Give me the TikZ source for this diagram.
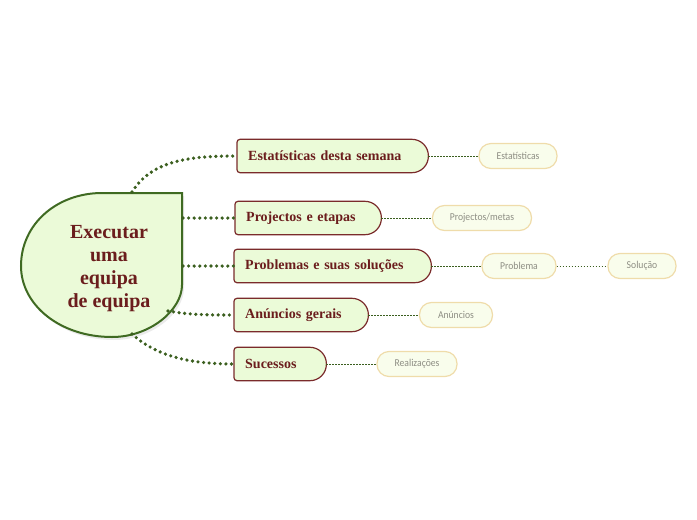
\documentclass[tikz,border=0pt]{standalone}
\usepackage{fontspec}
\setmainfont{Liberation Serif}
\newfontfamily\subfont[FakeStretch=0.92]{Carlito}
\usetikzlibrary{backgrounds}
\definecolor{cfill}{HTML}{EBFAD8}
\definecolor{cborder}{HTML}{3F6A22}
\definecolor{bfill}{HTML}{EBFBD8}
\definecolor{bborder}{HTML}{7A2B2B}
\definecolor{btext}{HTML}{6B1D1D}
\definecolor{sfill}{HTML}{F9FDEC}
\definecolor{sborder}{HTML}{EFDCAA}
\definecolor{stext}{HTML}{8E8E84}
\definecolor{linkc}{HTML}{3B5F1F}
\newcommand\branchshape[1]{%
  \begin{pgfonlayer}{background}
  \draw[bshape] (#1.north) [rounded corners=16.5pt] -- (#1.north east) -- (#1.south east) -- (#1.south)
    [rounded corners=3pt] -- (#1.south west) -- (#1.north west) -- cycle;
  \end{pgfonlayer}}
\begin{document}
\begin{tikzpicture}[x=1pt,y=-1pt,
  every node/.style={inner sep=0pt},
  central/.style={font=\bfseries\fontsize{20}{23}\selectfont, text=btext, align=center},
  cshape/.style={fill=cfill, draw=cborder, line width=2pt},
  branch/.style={font=\bfseries\fontsize{14}{16}\selectfont, text=btext, anchor=west,
    minimum height=33pt, inner xsep=11pt, align=left},
  bshape/.style={fill=bfill, draw=bborder, line width=1.2pt},
  sub/.style={font=\subfont\fontsize{10.5}{12}\selectfont, text=stext, fill=sfill, draw=sborder,
    line width=1.2pt, rounded corners=12pt, minimum height=25pt},
  thick link/.style={draw=linkc, line width=3.6pt, line cap=round, dash pattern=on 0pt off 5.6pt},
  thin link/.style={draw=linkc, line width=1pt, dash pattern=on 1.5pt off 1.5pt}
]
\useasboundingbox (0,0) rectangle (697,520);

% central node
\begin{pgfonlayer}{background}
\fill[black, opacity=0.08] (184,196) -- (184,288) .. controls (184,313) and (152,340) .. (114,340)
  .. controls (62,340) and (23,308) .. (23,268) -- cycle;
\draw[cshape] (182,193) -- (182,285) .. controls (182,310) and (150,337) .. (112,337)
  .. controls (60,337) and (21,305) .. (21,266) .. controls (21,224) and (57,193) .. (102,193) -- cycle;
\end{pgfonlayer}
\node[central] (c) at (109,268.5) {Executar\\uma\\equipa\\de equipa};
\coordinate (c1) at (132,192);
\coordinate (c2) at (183,218);
\coordinate (c3) at (183,266);
\coordinate (c4) at (168,311);
\coordinate (c5) at (132,334);

% branches
\node[branch, text width=169pt] (b1) at (237,156) {Estatísticas desta semana};
\node[branch, text width=124pt] (b2) at (235,218) {Projectos e etapas};
\node[branch, text width=175pt] (b3) at (234,266) {Problemas e suas soluções};
\node[branch, text width=112pt] (b4) at (234,315) {Anúncios gerais};
\node[branch, text width=70pt]  (b5) at (234,364) {Sucessos};
\branchshape{b1}\branchshape{b2}\branchshape{b3}\branchshape{b4}\branchshape{b5}

% sub nodes
\node[sub, minimum width=78pt] (s1) at (518,156) {Estatísticas};
\node[sub, minimum width=99pt] (s2) at (482,218) {Projectos/metas};
\node[sub, minimum width=74pt] (s3) at (519,266) {Problema};
\node[sub, minimum width=68pt] (s4) at (642,266) {Solução};
\node[sub, minimum width=73pt] (s5) at (456,315) {Anúncios};
\node[sub, minimum width=80pt] (s6) at (417,364) {Realizações};

% thick connectors
\draw[thick link] (c1) .. controls (152,160) and (190,156) .. (b1.west);
\draw[thick link] (c2) -- (b2.west);
\draw[thick link] (c3) -- (b3.west);
\draw[thick link] (c4) .. controls (190,315) and (210,315) .. (b4.west);
\draw[thick link] (c5) .. controls (152,352) and (180,364) .. (b5.west);

% thin connectors
\draw[thin link] (b1.east) -- (s1.west);
\draw[thin link] (b2.east) -- (s2.west);
\draw[thin link] (b3.east) -- (s3.west);
\draw[thin link] (s3.east) -- (s4.west);
\draw[thin link] (b4.east) -- (s5.west);
\draw[thin link] (b5.east) -- (s6.west);
\end{tikzpicture}
\end{document}
